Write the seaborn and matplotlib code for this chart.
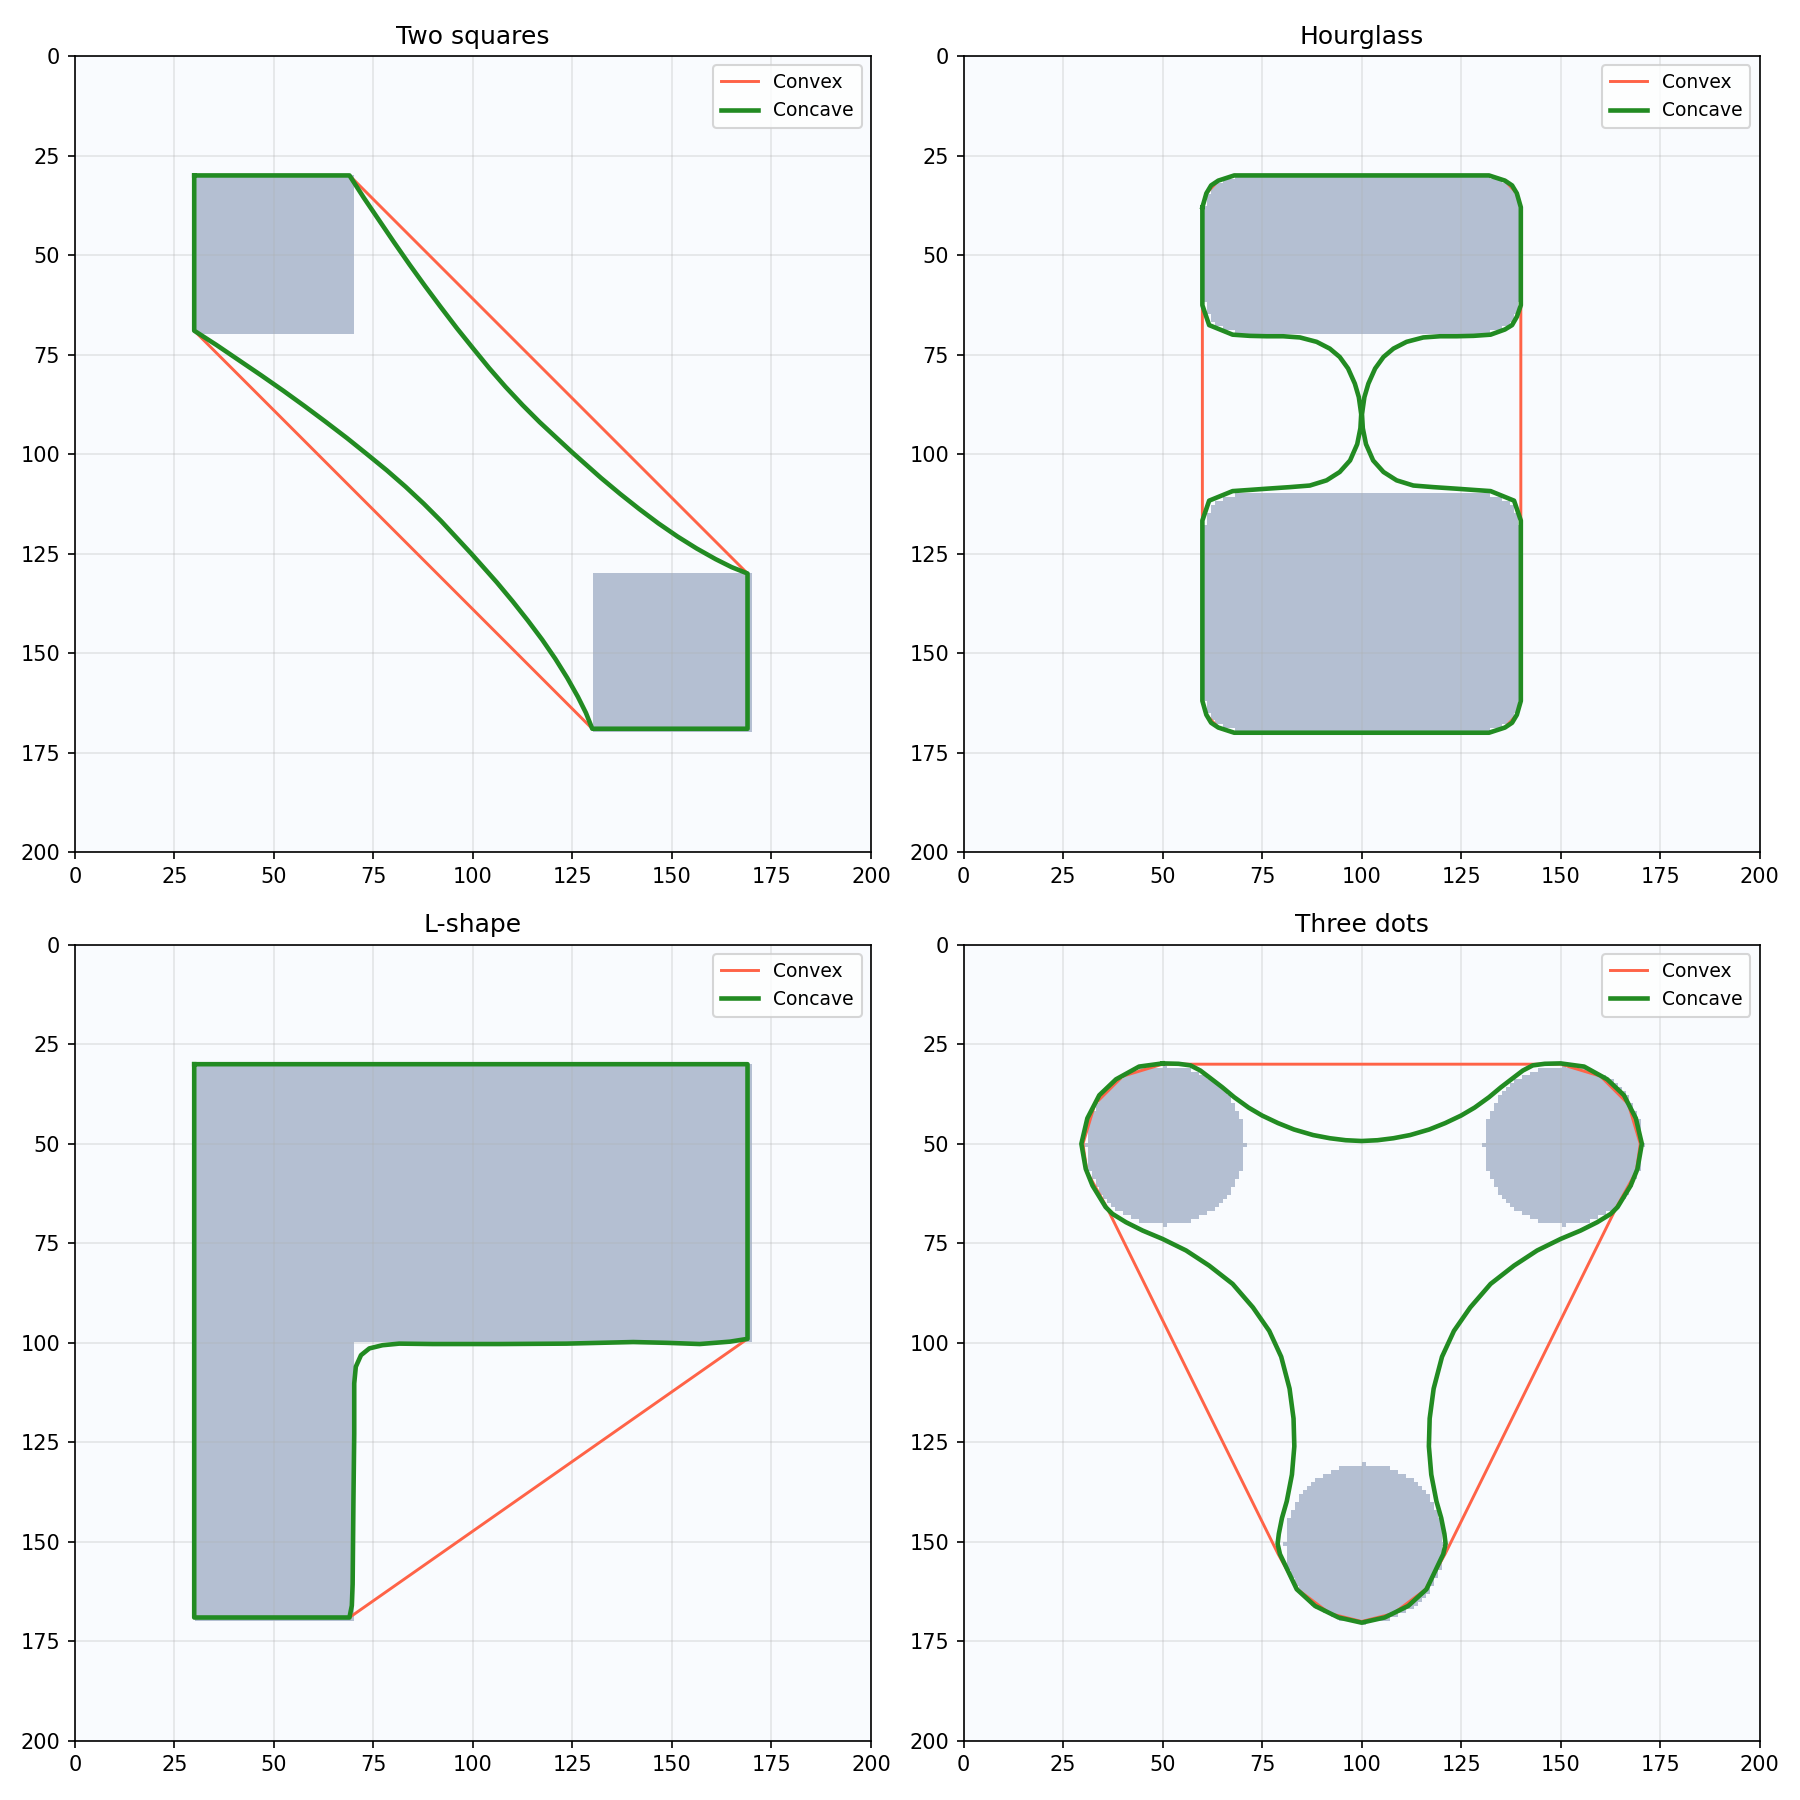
import numpy as np
import seaborn as sns
import matplotlib
matplotlib.use("Agg")
from matplotlib import pyplot as plt
from matplotlib.colors import ListedColormap

# grid size of the masks
size = 200

titles = ["Two squares", "Hourglass", "L-shape", "Three dots"]

# shapes in pixel coords: (x0, x1, y0, y1, corner radius)
rects_squares = [(30, 69, 30, 69, 0), (130, 169, 130, 169, 0)]
rects_hourglass = [(60, 139, 30, 69, 8), (60, 139, 110, 169, 8)]
rects_lshape = [(30, 169, 30, 99, 0), (30, 69, 100, 169, 0)]
# circles: (cx, cy, r)
dots = [(50, 50, 20), (150, 50, 20), (100, 150, 20)]

# convex hulls
sq_convex_x = [30, 69, 169, 169, 130, 30, 30]
sq_convex_y = [30, 30, 130, 169, 169, 69, 30]
hg_convex_x = [68, 132, 136, 139, 140, 140, 139, 136, 132, 68, 64, 61, 60, 60, 61, 64, 68]
hg_convex_y = [30, 30, 31.3, 34.5, 38, 162, 165.5, 168.7, 170, 170, 168.7, 165.5, 162, 38, 34.5, 31.3, 30]
ls_convex_x = [30, 169, 169, 69, 30, 30]
ls_convex_y = [30, 30, 99, 169, 169, 30]
td_convex_x = [50, 150, 160, 167, 170, 169, 164, 121, 116, 108, 100, 92, 84, 79, 36, 31, 30, 33, 40, 50]
td_convex_y = [30, 30, 33, 40, 50, 57, 66, 153, 162, 168, 170, 168, 162, 153, 66, 57, 50, 40, 33, 30]

# concave hulls
# two squares: upper bridge; the lower bridge is its mirror about the diagonal
sq_upper_x = [30, 69, 72.6, 76.4, 80.2, 84.1, 88, 91.8, 96, 100.1, 104.1, 108.2, 112.5, 116.8, 121,
              125, 128.6, 132.2, 137, 141.8, 146.6, 151.4, 156.2, 161, 165, 169]
sq_upper_y = [30, 30, 35.6, 41.2, 46.8, 52.4, 57.8, 62.9, 68.4, 73.5, 78.4, 83.1, 87.7, 92, 95.9,
              99.6, 102.8, 106, 110, 113.8, 117.4, 120.7, 123.7, 126.4, 128.4, 130]
sq_concave_x = sq_upper_x + [169] + sq_upper_y[::-1]
sq_concave_y = sq_upper_y + [169] + sq_upper_x[::-1]

# left arc of the hourglass waist, top to bottom
hg_arc_x = [67.6, 71.9, 76.1, 80.3, 84.5, 88.7, 92, 94.5, 96.6, 98.3, 99.3, 99.7, 99.9,
            99.7, 98.9, 97.1, 94.5, 91.2, 87, 82, 76.1, 71.9, 67.6]
hg_arc_y = [70, 70.3, 70.4, 70.4, 70.7, 71.8, 73.5, 75.6, 78.5, 82.3, 85.7, 88.5, 90,
            93.5, 97.5, 101.6, 104.5, 106.6, 107.9, 108.3, 108.7, 109, 109.3]
hg_right_arc_x = [200 - v for v in hg_arc_x]
hg_concave_x = ([60, 61, 62.2, 64, 68, 132, 136, 137.8, 139, 140, 140, 139, 137.8, 136]
                + hg_right_arc_x
                + [138.3, 140, 140, 139, 137.8, 136, 132, 68, 64, 62.2, 61, 60, 60, 61.7]
                + hg_arc_x[::-1]
                + [61.7, 60, 60])
hg_concave_y = ([38, 34.5, 32.5, 31.3, 30, 30, 31.3, 32.5, 34.5, 38, 62.6, 65.5, 67.6, 68.7]
                + hg_arc_y
                + [111.7, 116.7, 162, 165.5, 167.5, 168.7, 170, 170, 168.7, 167.5, 165.5, 162, 116.7, 111.7]
                + hg_arc_y[::-1]
                + [67.6, 62.6, 38])

ls_concave_x = [30, 169, 169, 164.6, 157, 148.7, 140.3, 131.9, 123.5, 106.7, 89.9, 81.5, 77.3, 74,
                71.9, 70.6, 70.2, 70.2, 70, 69.8, 69.6, 69, 30, 30]
ls_concave_y = [30, 30, 99, 99.7, 100.3, 100, 99.8, 100, 100.2, 100.3, 100.3, 100.2, 100.6, 101.4,
                103.1, 106, 110.2, 122.8, 139.6, 160.6, 166, 169, 169, 30]

# three dots: top waist (left half), left circle rim, left inner curve, bottom rim (left half)
td_top_x = [50, 54, 57, 59.5, 62, 65, 68, 71.6, 75, 79, 83, 87.8, 92, 96, 100]
td_top_y = [29.8, 29.9, 30.3, 31.6, 33.5, 35.8, 38.3, 40.9, 42.9, 44.8, 46.4, 47.8, 48.6, 49.1, 49.3]
td_rim_x = [50, 44.1, 38.3, 34.1, 31.1, 29.6, 30.7, 32.4, 35.7]
td_rim_y = [29.8, 30.6, 33.8, 37.8, 43.6, 50, 56.3, 60.5, 65.9]
td_inner_x = [35.7, 37.4, 40.8, 45, 50, 55.9, 61.7, 67.6, 72.7, 76.8, 79.8, 81.9, 82.9, 83.1,
              82.5, 81.2, 80, 79.2, 78.9, 79.5]
td_inner_y = [65.9, 67.6, 69.7, 71.8, 73.9, 76.8, 80.6, 85.2, 91.1, 97, 103.5, 111.5, 119, 126,
              133.1, 139.8, 144, 148, 150.5, 153.1]
td_bottom_x = [79.5, 83.7, 88.3, 94.2, 100]
td_bottom_y = [153.1, 161.9, 166.1, 169, 170.3]

td_concave_x = (td_top_x + [200 - v for v in td_top_x[::-1]]
                + [200 - v for v in td_rim_x]
                + [200 - v for v in td_inner_x]
                + [200 - v for v in td_bottom_x]
                + td_bottom_x[::-1] + td_inner_x[::-1] + td_rim_x[::-1])
td_concave_y = (td_top_y + td_top_y[::-1] + td_rim_y + td_inner_y + td_bottom_y
                + td_bottom_y[::-1] + td_inner_y[::-1] + td_rim_y[::-1])


def rect_mask(rects):
    yy, xx = np.mgrid[0:size, 0:size]
    m = np.zeros((size, size), dtype=bool)
    for x0, x1, y0, y1, r in rects:
        inside = (xx >= x0) & (xx <= x1) & (yy >= y0) & (yy <= y1)
        if r > 0:
            cx = np.clip(xx, x0 + r, x1 - r)
            cy = np.clip(yy, y0 + r, y1 - r)
            inside &= (xx - cx) ** 2 + (yy - cy) ** 2 <= r ** 2
        m |= inside
    return m


def dot_mask(circles):
    yy, xx = np.mgrid[0:size, 0:size]
    m = np.zeros((size, size), dtype=bool)
    for cx, cy, r in circles:
        m |= (xx - cx) ** 2 + (yy - cy) ** 2 <= r ** 2
    return m


masks = [rect_mask(rects_squares), rect_mask(rects_hourglass),
         rect_mask(rects_lshape), dot_mask(dots)]
convex = [(sq_convex_x, sq_convex_y), (hg_convex_x, hg_convex_y),
          (ls_convex_x, ls_convex_y), (td_convex_x, td_convex_y)]
concave = [(sq_concave_x, sq_concave_y), (hg_concave_x, hg_concave_y),
           (ls_concave_x, ls_concave_y), (td_concave_x, td_concave_y)]

cmap = ListedColormap(["#f9fbfe", "#b4bfd2"])

fig, axes = plt.subplots(2, 2, figsize=(12, 12), dpi=150)

for ax, title, mask, cvx, ccv in zip(axes.flat, titles, masks, convex, concave):
    ax.imshow(mask.astype(int), cmap=cmap, vmin=0, vmax=1,
              extent=(0, size, size, 0), interpolation="nearest")
    sns.lineplot(x=cvx[0], y=cvx[1], sort=False, estimator=None, ax=ax,
                 color="tomato", linewidth=1.4, label="Convex")
    sns.lineplot(x=ccv[0], y=ccv[1], sort=False, estimator=None, ax=ax,
                 color="forestgreen", linewidth=2.2, label="Concave")
    ax.set_xlim(0, size)
    ax.set_ylim(size, 0)
    ax.set_xticks(np.arange(0, 201, 25))
    ax.set_yticks(np.arange(0, 201, 25))
    ax.grid(True, alpha=0.3)
    ax.set_title(title)
    ax.legend(loc="upper right", fontsize=9)

plt.tight_layout()
plt.savefig("out.png", dpi=150)
